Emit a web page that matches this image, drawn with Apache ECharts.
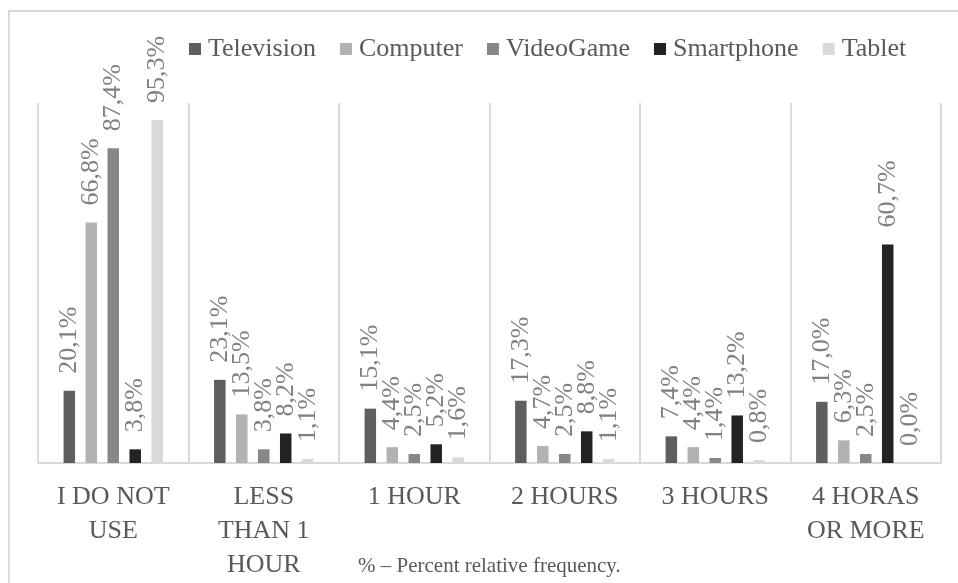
<!DOCTYPE html>
<html>
<head>
<meta charset="utf-8">
<script src="https://cdn.jsdelivr.net/npm/echarts@6/dist/echarts.min.js"></script>
<style>
html,body{margin:0;padding:0;background:#fff;}
#main{width:958px;height:583px;}
</style>
</head>
<body>
<div id="main"></div>
<script>
const categories = ['I DO NOT\nUSE', 'LESS\nTHAN 1\nHOUR', '1 HOUR', '2 HOURS', '3 HOURS', '4 HORAS\nOR MORE'];
const seriesNames = ['Television', 'Computer', 'VideoGame', 'Smartphone', 'Tablet'];
const television = [20.1, 23.1, 15.1, 17.3, 7.4, 17.0];
const computer   = [66.8, 13.5, 4.4, 4.7, 4.4, 6.3];
const videoGame  = [87.4, 3.8, 2.5, 2.5, 1.4, 2.5];
const smartphone = [3.8, 8.2, 5.2, 8.8, 13.2, 60.7];
const tablet     = [95.3, 1.1, 1.6, 1.1, 0.8, 0.0];
const footnote = '% – Percent relative frequency.';

const seriesData = [television, computer, videoGame, smartphone, tablet];
const colors = ['#5f5f5f', '#b2b2b2', '#878787', '#232323', '#d9d9d9'];
const serif = 'Liberation Serif';

const chart = echarts.init(document.getElementById('main'), null, {renderer: 'canvas'});
chart.setOption({
  animation: false,
  color: colors,
  title: {
    text: footnote,
    left: 358,
    top: 556,
    padding: 0,
    textStyle: {fontFamily: serif, fontSize: 21, fontWeight: 'normal', color: '#595959'}
  },
  legend: {
    data: seriesNames,
    left: 184,
    top: 31,
    itemGap: 24,
    itemWidth: 12,
    itemHeight: 12,
    icon: 'rect',
    textStyle: {fontFamily: serif, fontSize: 26, color: '#595959', padding: [0, 0, 0, 2]}
  },
  graphic: [{
    type: 'rect',
    shape: {x: 9, y: 11, width: 1200, height: 1000},
    style: {fill: 'none', stroke: '#d9d9d9', lineWidth: 2},
    silent: true,
    z: -1
  }],
  grid: {left: 38, right: 17, top: 103, bottom: 120, containLabel: false},
  xAxis: {
    type: 'category',
    data: categories,
    axisLine: {lineStyle: {color: '#d9d9d9', width: 2}},
    axisTick: {show: false},
    splitLine: {show: true, interval: 0, lineStyle: {color: '#d9d9d9', width: 2}},
    axisLabel: {
      interval: 0,
      margin: 17,
      fontFamily: serif,
      fontSize: 26,
      lineHeight: 34,
      color: '#595959',
      align: 'center'
    }
  },
  yAxis: {
    type: 'value',
    min: 0,
    max: 100,
    show: false,
    splitLine: {show: false}
  },
  series: seriesNames.map((name, i) => ({
    name: name,
    type: 'bar',
    data: seriesData[i],
    barWidth: 11.5,
    barGap: '91%',
    itemStyle: {color: colors[i]},
    label: {
      show: true,
      position: 'top',
      rotate: 90,
      align: 'left',
      verticalAlign: 'middle',
      distance: 17,
      fontFamily: serif,
      fontSize: 26,
      color: '#808080',
      formatter: p => p.value.toFixed(1).replace('.', ',') + '%'
    }
  }))
});
</script>
</body>
</html>
